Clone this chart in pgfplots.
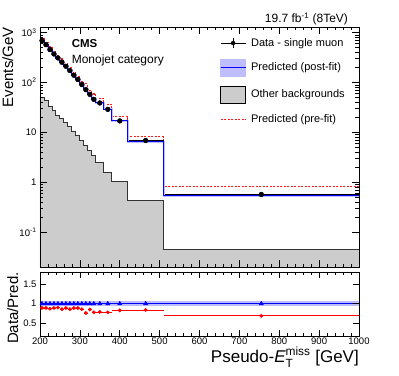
\documentclass[border=0pt]{standalone}
\usepackage{amsmath}
\usepackage{pgfplots}
\pgfplotsset{compat=1.18}
\usepackage{pgfplotstable}
\usepackage{fontspec}
\setmainfont{Liberation Sans}
\definecolor{bandblue}{RGB}{190,190,255}
\definecolor{bkggray}{RGB}{204,204,204}

% histogram bins: left edge, value (last row = right edge of last bin)
\pgfplotstableread{
xl    post   pre    other
200   692    778    51
210   575    646    44
220   457    525    33
230   374    420    27
240   311    346    22
250   255    297    19
260   212    238    16
270   174    202    13
280   140    157    10.5
290   115    129    8.5
300   91     106    6.8
310   75     95     5.5
320   58     68     4.3
330   46     59     3.4
340   39     48.5   2.5
360   29     36.5   1.6
380   17     20.6   1.06
420   6.5    8.2    0.43
510   0.54   0.82   0.045
1000  0.54   0.82   0.045
}\histo

% gray area outline, closed below the axis
\pgfplotstableread{
xl    other
200   0.001
200   51
210   44
220   33
230   27
240   22
250   19
260   16
270   13
280   10.5
290   8.5
300   6.8
310   5.5
320   4.3
330   3.4
340   2.5
360   1.6
380   1.06
420   0.43
510   0.045
1000  0.045
1000  0.001
}\otherfill

% data points: bin centre, value, half width, data/post-fit, data/pre-fit
\pgfplotstableread{
x     y      ex    rpost  rpre
205   692    5     1.0    0.89
215   575    5     1.0    0.89
225   457    5     1.0    0.87
235   374    5     1.0    0.89
245   311    5     1.0    0.90
255   255    5     1.0    0.86
265   212    5     1.0    0.89
275   174    5     1.0    0.86
285   140    5     1.0    0.89
295   115    5     1.0    0.89
305   91     5     1.0    0.86
315   72     5     1.0    0.76
325   58     5     1.0    0.85
335   46     5     1.0    0.78
350   39     10    1.0    0.79
370   29     10    1.0    0.78
400   17     20    1.0    0.83
465   6.9    45    1.0    0.84
755   0.57   245   1.0    0.69
}\points

\begin{document}
\begin{tikzpicture}
\useasboundingbox (0,0) rectangle (399pt,375pt);
% main panel
\begin{axis}[
  at={(40pt,108pt)}, anchor=south west, scale only axis,
  width=319pt, height=240pt,
  ymode=log, xmin=200, xmax=1000, ymin=0.02, ymax=1300,
  axis on top, axis line style={line width=0.8pt},
  tick align=inside, major tick length=7pt, minor tick length=3.5pt,
  tick style={line width=0.6pt, black},
  xtick={200,300,...,1000}, minor x tick num=4, xticklabels={},
  ytick={0.1,1,10,100,1000},
  yticklabels={10\textsuperscript{-1},1,10,10\textsuperscript{2},10\textsuperscript{3}},
  ticklabel style={font=\fontsize{9.5}{11}\selectfont},
  ylabel={Events/GeV},
  ylabel style={at={(axis description cs:-0.119,1)}, anchor=north east,
    inner sep=0pt, font=\fontsize{15}{18}\selectfont},
  title={19.7 fb\textsuperscript{-1} (8TeV)},
  title style={at={(axis description cs:0.966,1)}, anchor=south east,
    inner sep=0pt, yshift=-4.5pt, font=\fontsize{12}{14}\selectfont},
  legend style={at={(axis description cs:0.564,0.962)}, anchor=north west,
    draw=none, fill=none, inner sep=0pt, row sep=9.2pt, column sep=3pt,
    font=\fontsize{11}{13}\selectfont},
  legend cell align=left,
]
\addlegendimage{legend image code/.code={
  \draw[black, line width=0.8pt] (0pt,0pt) -- (25pt,0pt);
  \draw[black, line width=0.8pt] (12.5pt,-5pt) -- (12.5pt,5pt);
  \fill[black] (12.5pt,0pt) circle (2pt);}}
\addlegendentry{Data - single muon}
\addlegendimage{legend image code/.code={
  \fill[bandblue] (0pt,-8.5pt) rectangle (25pt,8.5pt);
  \draw[blue, line width=1pt] (0pt,0pt) -- (25pt,0pt);}}
\addlegendentry{Predicted (post-fit)}
\addlegendimage{legend image code/.code={
  \draw[black, fill=bkggray, line width=0.8pt] (0pt,-8.5pt) rectangle (25pt,8.5pt);}}
\addlegendentry{Other backgrounds}
\addlegendimage{legend image code/.code={
  \draw[red!90, dash pattern=on 2pt off 1.5pt, line width=1pt] (0pt,0pt) -- (25pt,0pt);}}
\addlegendentry{Predicted (pre-fit)}

\addplot[forget plot, const plot, fill=bkggray, draw=none] table[x=xl, y=other] {\otherfill};
\addplot[forget plot, const plot, black!80, line width=0.9pt] table[x=xl, y=other] {\histo};
\addplot[forget plot, const plot, red!90, dash pattern=on 2pt off 1.5pt, line width=1.1pt] table[x=xl, y=pre] {\histo};
% data horizontal error bars under the post-fit line
\addplot[forget plot, only marks, mark=none,
  error bars/.cd, x dir=both, x explicit, error mark=none,
  error bar style={black, line width=0.6pt}]
  table[x=x, y=y, x error=ex] {\points};
\addplot[forget plot, const plot, bandblue, line width=2.2pt] table[x=xl, y=post] {\histo};
\addplot[forget plot, const plot, blue, line width=0.9pt] table[x=xl, y=post] {\histo};
\addplot[forget plot, only marks, mark=*, mark size=2.4pt, black]
  table[x=x, y=y] {\points};

\node[anchor=base west, inner sep=0pt, font=\bfseries\fontsize{11.5}{13}\selectfont]
  at (axis description cs:0.099,0.914) {CMS};
\node[anchor=base west, inner sep=0pt, font=\fontsize{12}{14}\selectfont]
  at (axis description cs:0.099,0.846) {Monojet category};
\end{axis}

% ratio panel
\begin{axis}[
  at={(40pt,39pt)}, anchor=south west, scale only axis,
  width=319pt, height=64pt,
  xmin=200, xmax=1000, ymin=0.18, ymax=1.8,
  axis on top, axis line style={line width=0.8pt},
  tick align=inside, major tick length=6pt, minor tick length=3pt,
  tick style={line width=0.6pt, black},
  xtick={200,300,...,1000}, minor x tick num=4,
  xticklabels={200,300,400,500,600,700,800,900,1000},
  ytick={0.5,1,1.5},
  /pgf/number format/assume math mode=true,
  ticklabel style={font=\fontsize{9.5}{11}\selectfont},
  xticklabel style={yshift=2pt},
  xlabel={Pseudo-$\textit{E}_{\text{T}}^{\text{miss}}$ [GeV]},
  xlabel style={at={(axis description cs:1,0)}, anchor=north east,
    inner sep=0pt, yshift=-11pt, font=\fontsize{17}{20}\selectfont},
  ylabel={Data/Pred.},
  ylabel style={at={(axis description cs:-0.103,1)}, anchor=north east,
    inner sep=0pt, font=\fontsize{15}{18}\selectfont},
]
\addplot[fill=bandblue, draw=none] coordinates {(200,0.935) (1000,0.935) (1000,1.065) (200,1.065)};
\addplot[black, line width=0.8pt] coordinates {(200,1) (1000,1)};
\addplot[blue, line width=1pt] coordinates {(200,1) (510,1)};
\addplot[only marks, mark=*, mark size=1.7pt, red,
  error bars/.cd, x dir=both, x explicit, error mark=none,
  error bar style={red, line width=0.8pt}]
  table[x=x, y=rpre, x error=ex] {\points};
\addplot[only marks, mark=triangle*, mark size=2.4pt, blue,
  error bars/.cd, x dir=both, x explicit, error mark=none,
  error bar style={blue, line width=1pt}]
  table[x=x, y=rpost, x error=ex] {\points};
\end{axis}
\end{tikzpicture}
\end{document}
